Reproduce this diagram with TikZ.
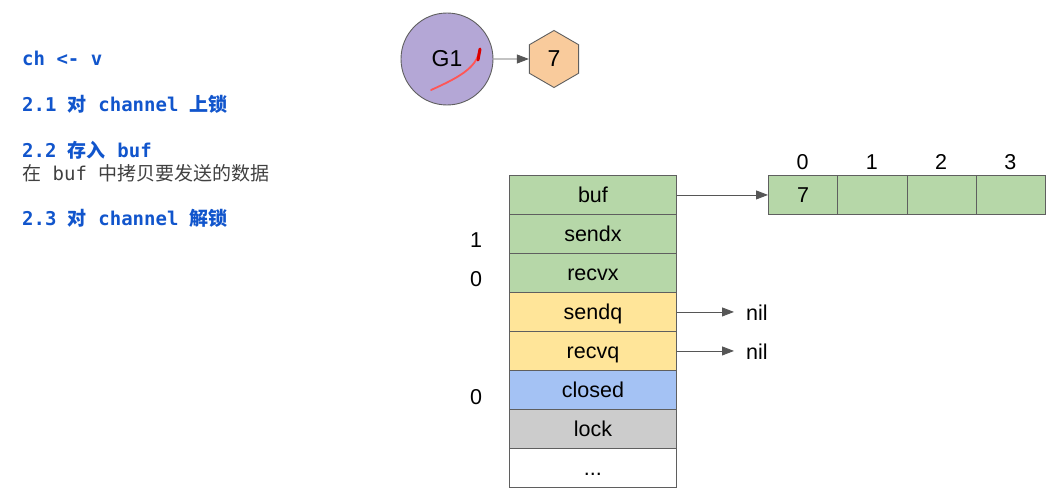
\documentclass[tikz,border=0pt]{standalone}
\usepackage{fontspec}
\setmainfont{Liberation Sans}
\setmonofont{DejaVu Sans Mono}
\newfontfamily\cjk{Noto Sans CJK SC}
\usetikzlibrary{shapes.geometric,arrows.meta}
\definecolor{gfill}{HTML}{B6D7A8}
\definecolor{yfill}{HTML}{FFE599}
\definecolor{bfill}{HTML}{A4C2F4}
\definecolor{grfill}{HTML}{CCCCCC}
\definecolor{ofill}{HTML}{F9CB9C}
\definecolor{pfill}{HTML}{B4A7D6}
\definecolor{tblue}{HTML}{1155CC}
\definecolor{tgray}{HTML}{404040}
\definecolor{edge}{HTML}{5F5F5F}
\tikzset{
  field/.style={draw=edge, line width=0.9pt, minimum width=167pt, minimum height=39pt, inner sep=0pt, text height=17pt, text depth=2pt, font=\fontsize{21.5}{21.5}\selectfont, anchor=north west},
  cell/.style={draw=edge, line width=0.9pt, fill=gfill, minimum width=69.25pt, minimum height=39pt, inner sep=0pt, text height=17pt, text depth=2pt, font=\fontsize{21.5}{21.5}\selectfont, anchor=north west},
  lbl/.style={font=\fontsize{21.5}{21.5}\selectfont, inner sep=0pt},
  arr/.style={draw=edge!90!black, line width=0.9pt, -{Triangle[length=12pt,width=9pt]}},
  head/.style={anchor=west, inner sep=0pt, text=tblue, font=\fontsize{19}{19}\selectfont\ttfamily\bfseries},
}
\begin{document}
\begin{tikzpicture}[x=1pt,y=-1pt]
\useasboundingbox (0,0) rectangle (1057,503);
% left text
\node[head] (t0) at (22,58) {ch <- v};
\node[head] (t1) at (22,104) {2.1 {\cjk\bfseries 对} channel {\cjk\bfseries 上锁}};
\node[head] (t2) at (22,150) {2.2 {\cjk\bfseries 存入} buf};
\node[anchor=west, inner sep=0pt, text=tgray, font=\fontsize{19}{19}\selectfont\ttfamily] (t3) at (22,173) {{\cjk 在} buf {\cjk 中拷贝要发送的数据}};
\node[head] (t4) at (22,218) {2.3 {\cjk\bfseries 对} channel {\cjk\bfseries 解锁}};
% goroutine and value
\node[circle, draw=edge, line width=0.9pt, fill=pfill, minimum size=92pt, inner sep=0pt, font=\fontsize{23}{23}\selectfont] (g1) at (447,59) {G1};
\draw[red!55!pink, line width=1.8pt, line cap=round] (431,90) .. controls (458,78) and (476,68) .. (479,52);
\draw[red!85!black, line width=3pt, line cap=round] (478,60) -- (480,49);
\node[regular polygon, regular polygon sides=6, shape border rotate=90, draw=edge, line width=0.9pt, fill=ofill, minimum size=57pt, inner sep=0pt, font=\fontsize{23}{23}\selectfont] (v7) at (554,59) {7};
\draw[arr] (g1) -- (v7);
% channel table
\node[field, fill=gfill] (buf) at (509,175) {buf};
\node[field, fill=gfill] (sendx) at (509,214) {sendx};
\node[field, fill=gfill] (recvx) at (509,253) {recvx};
\node[field, fill=yfill] (sendq) at (509,292) {sendq};
\node[field, fill=yfill] (recvq) at (509,331) {recvq};
\node[field, fill=bfill] (closed) at (509,370) {closed};
\node[field, fill=grfill] (lock) at (509,409) {lock};
\node[field, fill=white] (dots) at (509,448) {...};
% side numbers
\node[lbl] (n1) at (476,240) {1};
\node[lbl] (n2) at (476,279) {0};
\node[lbl] (n3) at (476,397) {0};
% buffer array
\node[cell] (c0) at (768,175) {7};
\node[cell] (c1) at (837.25,175) {};
\node[cell] (c2) at (906.5,175) {};
\node[cell] (c3) at (975.75,175) {};
\node[lbl] (i0) at (802.6,162) {0};
\node[lbl] (i1) at (871.9,162) {1};
\node[lbl] (i2) at (941.1,162) {2};
\node[lbl] (i3) at (1010.4,162) {3};
\draw[arr] (buf.east) -- (c0.west);
% nil pointers
\node[lbl, anchor=west] (nil1) at (746,313) {nil};
\node[lbl, anchor=west] (nil2) at (746,352) {nil};
\draw[arr, shorten >=12pt] (sendq.east) -- (sendq.east -| nil1.west);
\draw[arr, shorten >=12pt] (recvq.east) -- (recvq.east -| nil2.west);
\end{tikzpicture}
\end{document}
